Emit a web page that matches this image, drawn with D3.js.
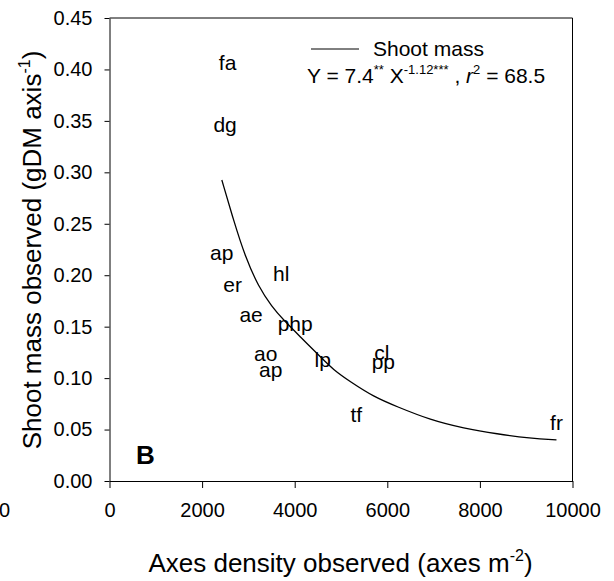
<!DOCTYPE html>
<html>
<head>
<meta charset="utf-8">
<script src="https://d3js.org/d3.v7.min.js"></script>
<title>Shoot mass</title>
<style>
body { margin: 0; background: #fff; }
text { font-family: "Liberation Sans", Arial, sans-serif; fill: #000; }
.axis path, .axis line { stroke: #000; }
path.fit { stroke: #000; stroke-width: 1.3px; fill: none; }
</style>
</head>
<body>
<svg class="svg1"></svg>
<script>
// species labels, observed axes density and shoot mass
let labels = ["fa", "dg", "ap", "er", "hl", "ae", "php", "ao", "ap", "lp", "cl", "pp", "tf", "fr"]
let axesDensity = [2551, 2497, 2422, 2659, 3708, 3059, 4011, 3373, 3481, 4605, 5881, 5914, 5330, 9654]
let shootMass = [0.407, 0.346, 0.222, 0.1905, 0.2012, 0.1618, 0.1526, 0.1239, 0.1079, 0.1176, 0.1244, 0.1161, 0.0641, 0.0569]

// fitted curve
let fitX = [2426, 2677, 2930, 3217, 3507, 3758, 4119, 4551, 4839, 5200, 5704, 6210, 6930, 7650, 8372, 9092, 9654]
let fitY = [0.2926, 0.2537, 0.2180, 0.1889, 0.1694, 0.1565, 0.1403, 0.1208, 0.1079, 0.0965, 0.0819, 0.0722, 0.0593, 0.0512, 0.0457, 0.0415, 0.0399]

let xTicks = [0, 2000, 4000, 6000, 8000, 10000]
let yTicks = [0, 0.05, 0.10, 0.15, 0.20, 0.25, 0.30, 0.35, 0.40, 0.45]

window.onload = function () {
    let w = 614, h = 581
    let left = 109.5, right = 572.5, top = 18, bottom = 481
    let svg = d3.select('.svg1').attr('width', w).attr('height', h)

    let xScale = d3.scaleLinear().domain([0, 10000]).range([left, right])
    let yScale = d3.scaleLinear().domain([0, 0.45]).range([bottom, top])

    // frame top / right
    svg.append('line').attr('x1', left).attr('x2', right).attr('y1', top).attr('y2', top)
        .style('stroke', '#000').style('stroke-width', 1)
    svg.append('line').attr('x1', right).attr('x2', right).attr('y1', top).attr('y2', bottom)
        .style('stroke', '#000').style('stroke-width', 1)

    let xAxis = d3.axisBottom(xScale).tickValues(xTicks).tickSize(7).tickPadding(15)
        .tickSizeOuter(0).tickFormat(d3.format('d'))
    svg.append('g').classed('axis', true).attr('transform', 'translate(0,' + bottom + ')').call(xAxis)
        .selectAll('text').style('font-size', '20px')

    let yAxis = d3.axisLeft(yScale).tickValues(yTicks).tickSize(5).tickPadding(12)
        .tickSizeOuter(0).tickFormat(d3.format('.2f'))
    svg.append('g').classed('axis', true).attr('transform', 'translate(' + left + ',0)').call(yAxis)
        .selectAll('text').style('font-size', '20px')

    svg.selectAll('.axis').attr('font-family', null).attr('font-size', null)

    // stray label at far left
    svg.append('text').attr('x', -1).attr('y', 517).style('font-size', '20px').text('0')

    // fitted curve
    let line = d3.line()
        .x(function (d) { return xScale(d[0]) })
        .y(function (d) { return yScale(d[1]) })
        .curve(d3.curveBasis)
    svg.append('path').classed('fit', true).attr('d', line(fitX.map(function (x, i) { return [x, fitY[i]] })))

    // point labels
    svg.append('g').selectAll('text')
        .data(labels)
        .enter()
        .append('text')
        .attr('x', function (d, i) { return xScale(axesDensity[i]) })
        .attr('y', function (d, i) { return yScale(shootMass[i]) })
        .attr('dy', '0.35em')
        .attr('text-anchor', 'middle')
        .style('font-size', '21px')
        .text(function (d) { return d })

    // panel letter
    svg.append('text').attr('x', 136).attr('y', 464)
        .style('font-size', '26px').style('font-weight', 'bold').text('B')

    // legend
    svg.append('line').attr('x1', 311).attr('x2', 359).attr('y1', 49).attr('y2', 49)
        .style('stroke', '#000').style('stroke-width', 1)
    svg.append('text').attr('x', 373).attr('y', 56).style('font-size', '21px').text('Shoot mass')
    let eq = svg.append('text').attr('x', 307).attr('y', 83).style('font-size', '21px')
    eq.append('tspan').text('Y = 7.4')
    eq.append('tspan').attr('dy', -9).style('font-size', '13px').text('**')
    eq.append('tspan').attr('dy', 9).text(' X')
    eq.append('tspan').attr('dy', -9).style('font-size', '13px').text('-1.12***')
    eq.append('tspan').attr('dy', 9).text(' , ')
    eq.append('tspan').style('font-style', 'italic').text('r')
    eq.append('tspan').attr('dy', -9).style('font-size', '13px').text('2')
    eq.append('tspan').attr('dy', 9).text(' = 68.5')

    // axis titles
    let xt = svg.append('text').attr('x', 340.5).attr('y', 572).attr('text-anchor', 'middle').style('font-size', '26px')
    xt.append('tspan').text('Axes density observed (axes m')
    xt.append('tspan').attr('dy', -11).style('font-size', '16px').text('-2')
    xt.append('tspan').attr('dy', 11).text(')')

    let yt = svg.append('text').attr('transform', 'translate(41,250) rotate(-90)')
        .attr('text-anchor', 'middle').style('font-size', '26px')
    yt.append('tspan').text('Shoot mass observed (gDM axis')
    yt.append('tspan').attr('dy', -11).style('font-size', '16px').text('-1')
    yt.append('tspan').attr('dy', 11).text(')')
}
</script>
</body>
</html>
